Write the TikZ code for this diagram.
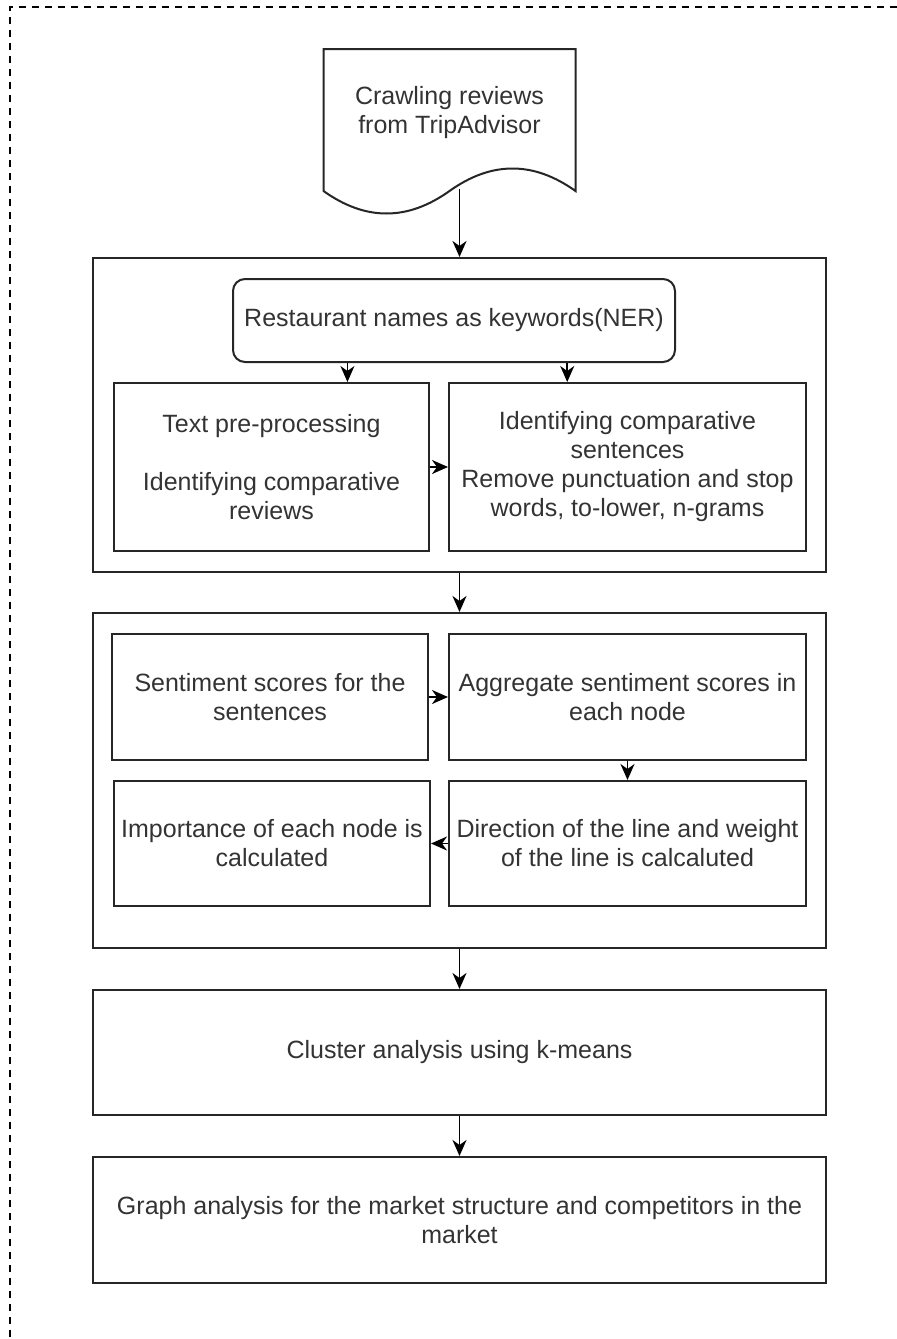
\documentclass[tikz,border=0pt]{standalone}
\usepackage{fontspec}
\setmainfont{Liberation Sans}
\usetikzlibrary{arrows.meta,calc}
\begin{document}
\begin{tikzpicture}[x=0.5pt,y=-0.5pt,
  txt/.style={inner sep=0pt,align=center,text=black!80,font=\fontsize{12.5}{14.5}\selectfont},
  box/.style={txt,draw=black!85,line width=1pt},
  arr/.style={-{Stealth[length=8pt,width=7pt,inset=2.5pt]},line width=0.9pt}]
\useasboundingbox (0,0) rectangle (897,1339);
% dashed frame, only top and left visible
\begin{scope}
\clip (0,0) rectangle (897,1339);
\draw[dash pattern=on 3.5pt off 3pt,line width=0.9pt] (10,1350) -- (10,7) -- (910,7);
\end{scope}
% document shape
\draw[line width=1pt,draw=black!85] (323.5,49) -- (575.5,49) -- (575.5,191)
  .. controls (533.5,161) and (491.5,161) .. (449.5,191)
  .. controls (407.5,221) and (365.5,221) .. (323.5,191) -- cycle;
\node[txt] (doc) at (449.5,112.5) {Crawling reviews\\from TripAdvisor};
\coordinate (docout) at (459.5,189);
% first group
\node[box,minimum width=366.5pt,minimum height=157pt] (grp1) at (459.5,415) {};
\node[box,rounded corners=6pt,minimum width=221pt,minimum height=41.5pt] (ner) at (454,320.5) {Restaurant names as keywords(NER)};
\node[box,minimum width=157.5pt,minimum height=84pt] (prep) at (271.5,467) {Text pre-processing\\[14.5pt]Identifying comparative\\reviews};
\node[box,minimum width=178.5pt,minimum height=84pt] (sent) at (627.5,467) {Identifying comparative\\sentences\\Remove punctuation and stop\\words, to-lower, n-grams};
% second group
\node[box,minimum width=366.5pt,minimum height=167.5pt] (grp2) at (459.5,780.5) {};
\node[box,minimum width=158pt,minimum height=63pt] (score) at (270,697) {Sentiment scores for the\\sentences};
\node[box,minimum width=178.5pt,minimum height=63pt] (aggr) at (627.5,697) {Aggregate sentiment scores in\\each node};
\node[box,minimum width=158pt,minimum height=62.5pt] (imp) at (272,843.5) {Importance of each node is\\calculated};
\node[box,minimum width=178.5pt,minimum height=62.5pt] (dir) at (627.5,843.5) {Direction of the line and weight\\of the line is calcaluted};
% last steps
\node[box,minimum width=366.5pt,minimum height=62.5pt] (clust) at (459.5,1052.5) {Cluster analysis using k-means};
\node[box,minimum width=366.5pt,minimum height=63pt] (graph) at (459.5,1220) {Graph analysis for the market structure and competitors in the\\market};
% arrows
\draw[arr] (docout) -- (grp1.north);
\draw[arr] ($(ner.south west)!.26!(ner.south east)$) coordinate (n1) -- (n1 |- prep.north);
\draw[arr] ($(ner.south west)!.755!(ner.south east)$) coordinate (n2) -- (n2 |- sent.north);
\draw[arr] (prep) -- (sent);
\draw[arr] (grp1) -- (grp2);
\draw[arr] (score) -- (aggr);
\draw[arr] (aggr) -- (dir);
\draw[arr] (dir) -- (imp);
\draw[arr] (grp2) -- (clust);
\draw[arr] (clust) -- (graph);
\end{tikzpicture}
\end{document}
